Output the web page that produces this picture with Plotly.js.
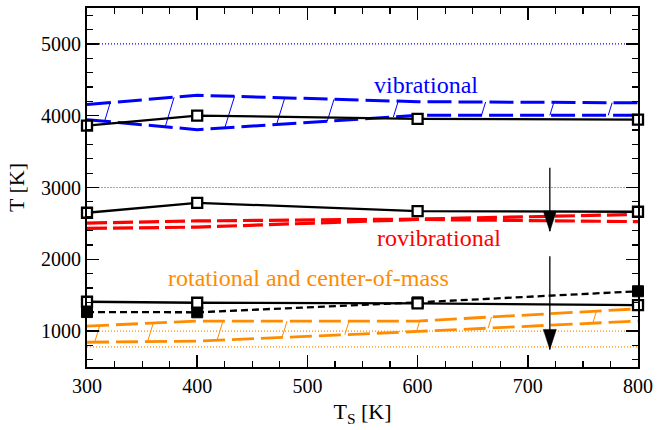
<!DOCTYPE html>
<html>
<head>
<meta charset="utf-8">
<script src="https://cdn.plot.ly/plotly-3.0.1.min.js"></script>
<style>html,body{margin:0;padding:0;background:#fff;}#plot{width:657px;height:430px;}</style>
</head>
<body>
<div id="plot"></div>
<script>
// ---- data ----
const Ts = [300, 400, 600, 800];

const vibSim   = [3863, 4002, 3956, 3946];
const vibUpper = [4155, 4285, 4195, 4180];
const vibLower = [3945, 3805, 4005, 4005];

const rovibSim = [2648, 2787, 2670, 2662];
const rovibA   = [2505, 2535, 2560, 2625];
const rovibB   = [2430, 2448, 2555, 2525];

const rotSim   = [1409, 1395, 1385, 1362];
const comSim   = [1265, 1262, 1400, 1555];
const rotUpper = [1070, 1140, 1140, 1310];
const rotLower = [845, 860, 995, 1140];

const vibRefX = [300, 800];   const vibRef = 5000;
const rovibRefX = [305, 790]; const rovibRef = 3000;
const rotRefX = [300, 800];   const rotRefs = [1000, 780];

const vibHatchT = [316, 371, 425, 472, 518, 578, 658, 720, 773];
const rotHatchT = [307, 355, 418, 477, 534, 599, 664, 759];

const arrowT = 720;
const rovibArrow = [3274, 2392];
const rotArrow = [2044, 745];

// ---- helpers ----
function interp(xs, ys, t) {
  for (let i = 0; i < xs.length - 1; i++) {
    if (t >= xs[i] && t <= xs[i + 1]) {
      const f = (t - xs[i]) / (xs[i + 1] - xs[i]);
      return ys[i] + f * (ys[i + 1] - ys[i]);
    }
  }
  return t < xs[0] ? ys[0] : ys[ys.length - 1];
}
function hatch(xs, lo, hi, ts) {
  const X = [], Y = [];
  ts.forEach(t => {
    const l = interp(xs, lo, t);
    const h = interp(xs, hi, t);
    const t2 = t + 0.02 * (h - l);
    X.push(t, t2, null);
    Y.push(l, interp(xs, hi, t2), null);
  });
  return {X, Y};
}

const BLUE = '#0000ff', RED = '#ff0000', ORANGE = '#ff8c00';
const FONT = 'Liberation Serif';

const vh = hatch(Ts, vibLower, vibUpper, vibHatchT);
const rh = hatch(Ts, rotLower, rotUpper, rotHatchT);

function refTrace(xr, y, color) {
  return {x: xr, y: [y, y], mode: 'lines', line: {color: color, width: 1.1, dash: '1px,2px'}, hoverinfo: 'skip'};
}
function arrowTrace(a) {
  return {x: [arrowT, arrowT], y: a, mode: 'lines', cliponaxis: false,
          line: {color: 'black', width: 1.3}};
}
// arrowhead: pixel-sized triangle anchored at the arrow tip (data coords)
function arrowHead(a) {
  return {type: 'path', xref: 'x', yref: 'y', xsizemode: 'pixel', ysizemode: 'pixel',
          xanchor: arrowT, yanchor: a[1], path: 'M0,0 L-6.5,20 L6.5,20 Z',
          fillcolor: 'black', line: {color: 'black', width: 0.5}, layer: 'above'};
}

const traces = [
  refTrace(vibRefX, vibRef, BLUE),
  refTrace(rovibRefX, rovibRef, RED),
  refTrace(rotRefX, rotRefs[0], ORANGE),
  refTrace(rotRefX, rotRefs[1], ORANGE),
  {x: vh.X, y: vh.Y, mode: 'lines', line: {color: BLUE, width: 1}},
  {x: rh.X, y: rh.Y, mode: 'lines', line: {color: ORANGE, width: 1}},
  {x: Ts, y: vibUpper, mode: 'lines', line: {color: BLUE, width: 3, dash: '24px,7px'}},
  {x: Ts, y: vibLower, mode: 'lines', line: {color: BLUE, width: 3, dash: '24px,7px'}},
  {x: Ts, y: rovibA, mode: 'lines', line: {color: RED, width: 3.2, dash: '20px,6px'}},
  {x: Ts, y: rovibB, mode: 'lines', line: {color: RED, width: 3.2, dash: '20px,6px'}},
  {x: Ts, y: rotUpper, mode: 'lines', line: {color: ORANGE, width: 2.8, dash: '22px,7px'}},
  {x: Ts, y: rotLower, mode: 'lines', line: {color: ORANGE, width: 2.8, dash: '22px,7px'}},
  arrowTrace(rovibArrow),
  arrowTrace(rotArrow),
  {x: Ts, y: comSim, mode: 'lines+markers', cliponaxis: false,
   line: {color: 'black', width: 2.3, dash: '7px,4px'},
   marker: {symbol: 'square', size: 11, color: 'black', line: {color: 'black', width: 1}}},
  {x: Ts, y: vibSim, mode: 'lines+markers', cliponaxis: false,
   line: {color: 'black', width: 2.3},
   marker: {symbol: 'square', size: 10, color: 'white', line: {color: 'black', width: 2.3}}},
  {x: Ts, y: rovibSim, mode: 'lines+markers', cliponaxis: false,
   line: {color: 'black', width: 2.3},
   marker: {symbol: 'square', size: 10, color: 'white', line: {color: 'black', width: 2.3}}},
  {x: Ts, y: rotSim, mode: 'lines+markers', cliponaxis: false,
   line: {color: 'black', width: 2.3},
   marker: {symbol: 'square', size: 10, color: 'white', line: {color: 'black', width: 2.3}}}
];

const axisCommon = {
  showline: true, linewidth: 2, linecolor: 'black', mirror: 'allticks',
  ticks: 'inside', ticklen: 12, tickwidth: 1.5, tickcolor: 'black',
  showgrid: false, zeroline: false,
  tickfont: {family: FONT, size: 20, color: 'black'}
};

const layout = {
  width: 657, height: 430,
  font: {family: FONT, color: 'black'},
  margin: {l: 87, r: 19, t: 8, b: 63},
  paper_bgcolor: 'white', plot_bgcolor: 'white',
  showlegend: false,
  xaxis: Object.assign({}, axisCommon, {
    range: [300, 800], tick0: 300, dtick: 100,
    minor: {dtick: 25, ticks: 'inside', ticklen: 6, tickwidth: 1.2, tickcolor: 'black', showgrid: false},
    title: {text: 'T<sub>S</sub> [K]', font: {family: FONT, size: 22, color: 'black'}, standoff: 8}
  }),
  yaxis: Object.assign({}, axisCommon, {
    range: [500, 5500], tick0: 0, dtick: 1000,
    minor: {dtick: 200, ticks: 'inside', ticklen: 6, tickwidth: 1.2, tickcolor: 'black', showgrid: false},
    title: {text: 'T [K]', font: {family: FONT, size: 22, color: 'black'}, standoff: 10}
  }),
  shapes: [arrowHead(rovibArrow), arrowHead(rotArrow)],
  annotations: [
    {x: 608, y: 4430, xref: 'x', yref: 'y', text: 'vibrational', showarrow: false,
     font: {family: FONT, size: 24, color: BLUE}, xanchor: 'center', yanchor: 'middle'},
    {x: 619, y: 2290, xref: 'x', yref: 'y', text: 'rovibrational', showarrow: false,
     font: {family: FONT, size: 24, color: RED}, xanchor: 'center', yanchor: 'middle'},
    {x: 501, y: 1733, xref: 'x', yref: 'y', text: 'rotational and center-of-mass', showarrow: false,
     font: {family: FONT, size: 24, color: ORANGE}, xanchor: 'center', yanchor: 'middle'}
  ]
};

Plotly.newPlot('plot', traces, layout, {displayModeBar: false, staticPlot: true});
</script>
</body>
</html>
